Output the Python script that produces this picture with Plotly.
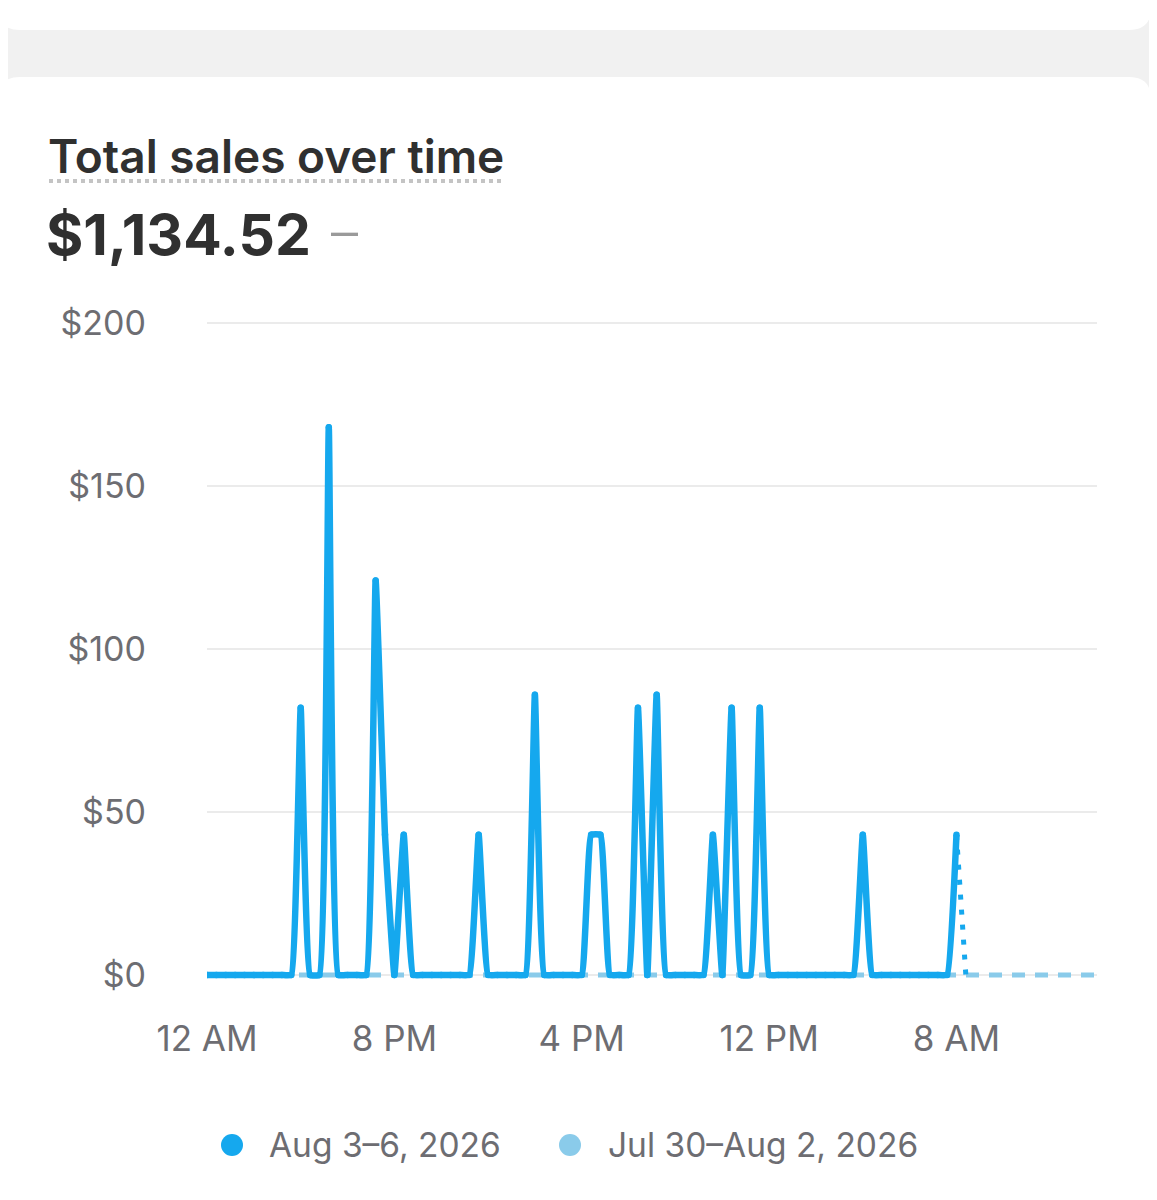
import plotly.graph_objects as go

# hourly sales, Aug 3-6 (current period, complete hours only)
hours = list(range(0, 81))
sales = [0] * 81
peaks = {10: 82, 13: 168, 18: 121, 19: 43, 21: 43, 29: 43, 35: 86, 41: 43, 42: 43,
         46: 82, 48: 86, 54: 43, 56: 82, 59: 82, 70: 43, 80: 43}
for h, v in peaks.items():
  sales[h] = v

# the hour still in progress
partial_hours = [80, 81]
partial_sales = [43, 0]

# comparison period, Jul 30-Aug 2
prev_hours = list(range(0, 96))
prev_sales = [0] * 96

tick_hours = [0, 20, 40, 60, 80]
tick_labels = ["12 AM", "8 PM", "4 PM", "12 PM", "8 AM"]
y_ticks = [0, 50, 100, 150, 200]
y_labels = ["$0", "$50", "$100", "$150", "$200"]
series_names = ["Aug 3\u20136, 2026", "Jul 30\u2013Aug 2, 2026"]

BLUE = "#15a8ee"
LIGHT = "#8acbea"
GREY_TXT = "#6d6d72"
FONT = "Inter"

# page has an 8px body margin, so the figure sits at (8, 8)
OFF = 8
W, H = 1141, 1184
L, R, T, B = 199, 52, 295, 197
PW, PH = W - L - R, H - T - B

def xp(px):
  return (px - OFF - L) / PW

def yp(py):
  return (H - B - (py - OFF)) / PH

fig = go.Figure()

fig.add_trace(go.Scatter(
  x=prev_hours, y=prev_sales, mode="lines", name=series_names[1],
  line=dict(color=LIGHT, width=5, dash="13px,10px"),
  showlegend=False, hoverinfo="skip"))

fig.add_trace(go.Scatter(
  x=hours, y=sales, mode="lines+markers", name=series_names[0],
  line=dict(color=BLUE, width=6.5, shape="spline", smoothing=0.3),
  marker=dict(color=BLUE, size=6.5, line_width=0),
  showlegend=False))

fig.add_trace(go.Scatter(
  x=partial_hours, y=partial_sales, mode="lines",
  line=dict(color=BLUE, width=5, dash="5px,10px"),
  showlegend=False, hoverinfo="skip"))

# page background and cards
shapes = [
  dict(type="rect", xref="paper", yref="paper", x0=xp(0), x1=xp(1200), y0=yp(1250), y1=yp(0),
       fillcolor="#f1f1f1", line_width=0, layer="below"),
]
def card(x0, x1, y0, y1, r):
  a, b = xp(x0), xp(x1)
  c, d = yp(y0), yp(y1)
  rx, ry = r / PW, r / PH
  path = (f"M{a+rx},{c} L{b-rx},{c} Q{b},{c} {b},{c-ry} L{b},{d+ry} Q{b},{d} {b-rx},{d} "
          f"L{a+rx},{d} Q{a},{d} {a},{d+ry} L{a},{c-ry} Q{a},{c} {a+rx},{c} Z")
  return dict(type="path", xref="paper", yref="paper", path=path,
              fillcolor="white", line_width=0, layer="below")
shapes.append(card(-2, 1151, -60, 30, 22))
shapes.append(card(-2, 1151, 77, 1260, 22))
shapes.append(dict(type="line", xref="paper", yref="paper", x0=xp(49), x1=xp(505),
                   y0=yp(181), y1=yp(181), line=dict(color="#c4c4c4", width=4, dash="4px,4px")))

# legend dots
for cx, col in [(232, BLUE), (570, LIGHT)]:
  shapes.append(dict(type="circle", xref="paper", yref="paper",
                     x0=xp(cx - 11), x1=xp(cx + 11), y0=yp(1145 + 11), y1=yp(1145 - 11),
                     fillcolor=col, line_width=0))

annotations = [
  dict(text="Total sales over time", x=xp(46), y=yp(156), xref="paper", yref="paper",
       xanchor="left", yanchor="middle", showarrow=False,
       font=dict(family=FONT, size=46, color="#303030", weight=600)),
  dict(text="$1,134.52", x=xp(44), y=yp(234), xref="paper", yref="paper",
       xanchor="left", yanchor="middle", showarrow=False,
       font=dict(family=FONT, size=57, color="#303030", weight=700)),
  dict(text="\u2013", x=xp(329), y=yp(232), xref="paper", yref="paper",
       xanchor="left", yanchor="middle", showarrow=False,
       font=dict(family=FONT, size=54, color="#9a9a9a", weight=300)),
  dict(text=series_names[0], x=xp(267), y=yp(1145), xref="paper", yref="paper",
       xanchor="left", yanchor="middle", showarrow=False,
       font=dict(family=FONT, size=33.5, color=GREY_TXT)),
  dict(text=series_names[1], x=xp(606), y=yp(1145), xref="paper", yref="paper",
       xanchor="left", yanchor="middle", showarrow=False,
       font=dict(family=FONT, size=33.5, color=GREY_TXT)),
]

fig.update_layout(
  width=W, height=H,
  margin=dict(l=L, r=R, t=T, b=B, pad=0),
  paper_bgcolor="white", plot_bgcolor="rgba(0,0,0,0)",
  font=dict(family=FONT, color=GREY_TXT),
  shapes=shapes, annotations=annotations,
  showlegend=False,
  hovermode="x unified",
)
fig.update_xaxes(range=[0, 95], tickvals=tick_hours, ticktext=tick_labels, showgrid=False,
                 zeroline=False, showline=False, ticks="", ticklabelstandoff=20,
                 tickfont=dict(family=FONT, size=35, color=GREY_TXT), fixedrange=True)
fig.update_yaxes(range=[-20 / 3.26, 200 + 20 / 3.26], tickvals=y_ticks, ticktext=y_labels,
                 showgrid=True, gridcolor="#ebebeb", gridwidth=2, zeroline=False,
                 showline=False, ticks="", ticklabelstandoff=60,
                 tickfont=dict(family=FONT, size=34, color=GREY_TXT), fixedrange=True)

fig.write_html("out.html")
